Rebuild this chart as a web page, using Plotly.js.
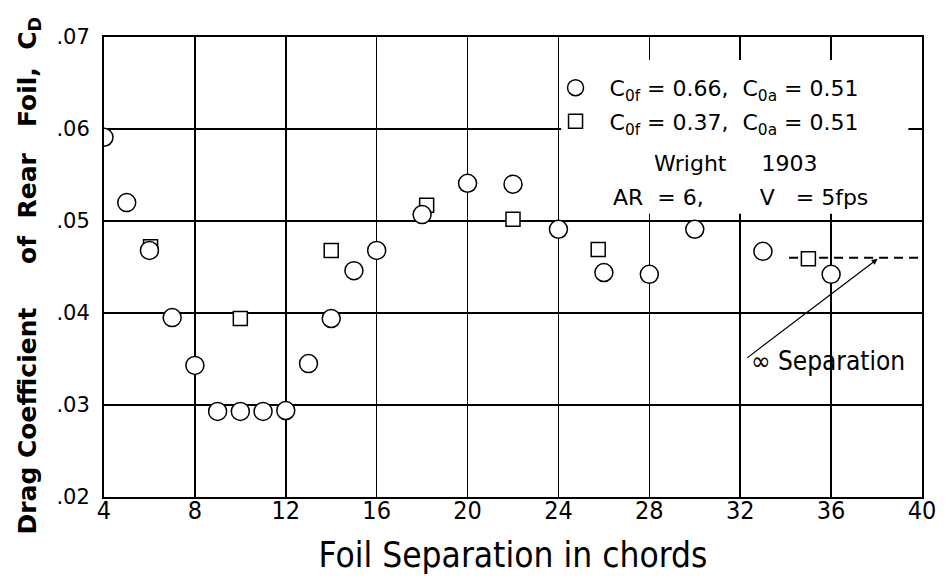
<!DOCTYPE html>
<html><head><meta charset="utf-8">
<script src="https://cdn.plot.ly/plotly-3.0.1.min.js"></script>
<style>html,body{margin:0;padding:0;background:#fff}</style>
</head><body>
<div id="chart" style="width:950px;height:579px"></div>
<script>
// Series 1: circles  (C0f = 0.66, C0a = 0.51)
const circleX = [4, 5, 6, 7, 8, 9, 10, 11, 12, 13, 14, 15, 16, 18, 20, 22, 24, 26, 28, 30, 33, 36];
const circleY = [0.0591, 0.0520, 0.0468, 0.0395, 0.0343, 0.0293, 0.0293, 0.0293, 0.0294, 0.0345, 0.0394, 0.0446, 0.0468, 0.0507, 0.0541, 0.0540, 0.0491, 0.0444, 0.0442, 0.0491, 0.0467, 0.0442];
// Series 2: squares (C0f = 0.37, C0a = 0.51)
const squareX = [6.05, 10, 14, 18.2, 22, 25.75, 35];
const squareY = [0.0472, 0.0394, 0.0468, 0.0517, 0.0502, 0.0469, 0.0459];
// Infinite separation level (dashed)
const infSepX = [34.15, 40];
const infSepY = [0.0460, 0.0460];
// Ticks
const xTickVals = [4, 8, 12, 16, 20, 24, 28, 32, 36, 40];
const xTickText = ['4', '8', '12', '16', '20', '24', '28', '32', '36', '40'];
const yTickVals = [0.02, 0.03, 0.04, 0.05, 0.06, 0.07];
const yTickText = ['.02', '.03', '.04', '.05', '.06', '.07'];

const narrow = 'Liberation Sans Narrow, DejaVu Sans Condensed, Roboto Condensed, Arial Narrow, sans-serif';
const sans = 'DejaVu Sans, Liberation Sans, sans-serif';
const nb = n => '\u00a0'.repeat(n);

const traces = [
  {x: infSepX, y: infSepY, type: 'scatter', mode: 'lines', showlegend: false, hoverinfo: 'skip',
   line: {color: '#000', width: 2, dash: '9px,6px'}},
  {x: squareX, y: squareY, type: 'scatter', mode: 'markers', legendgroup: 'b', legendrank: 2,
   name: nb(2) + 'C<sub>0f</sub> = 0.37,' + nb(2) + 'C<sub>0a</sub> = 0.51',
   marker: {symbol: 'square', size: 14, color: '#fff', line: {color: '#000', width: 1.5}}},
  {x: circleX, y: circleY, type: 'scatter', mode: 'markers', legendgroup: 'a', legendrank: 1,
   name: nb(2) + 'C<sub>0f</sub> = 0.66,' + nb(2) + 'C<sub>0a</sub> = 0.51',
   marker: {symbol: 'circle', size: 18, color: '#fff', line: {color: '#000', width: 1.5}}}
];

const yTitle = '<b>Drag' + nb(1) + 'Coefficient' + nb(5) + 'of' + nb(2) + 'Rear' + nb(3) + 'Foil,' + nb(2) + 'C<sub>D</sub>' + nb(2) + '</b>';

const layout = {
  width: 950, height: 579,
  margin: {l: 104, r: 28, t: 37, b: 82},
  paper_bgcolor: '#fff', plot_bgcolor: '#fff',
  showlegend: true,
  legend: {x: 0.552, y: 0.935, xanchor: 'left', yanchor: 'top', bgcolor: 'rgba(0,0,0,0)', borderwidth: 0,
           traceorder: 'grouped', tracegroupgap: 2,
           font: {family: sans, size: 22, color: '#000'}},
  xaxis: {range: [4, 40], tickvals: xTickVals, ticktext: xTickText, showgrid: true, gridcolor: '#000', gridwidth: 1.6,
          showline: true, linecolor: '#000', linewidth: 2, mirror: true, ticks: '', zeroline: false,
          ticklabelstandoff: -10,
          tickfont: {family: narrow, size: 25, color: '#000'},
          title: {text: 'Foil Separation in chords', font: {family: narrow, size: 35, color: '#000'}, standoff: 18}},
  yaxis: {range: [0.02, 0.07], tickvals: yTickVals, ticktext: yTickText, showgrid: true, gridcolor: '#000', gridwidth: 1.6,
          showline: true, linecolor: '#000', linewidth: 2, mirror: true, ticks: '', zeroline: false,
          ticklabelstandoff: 8,
          tickfont: {family: sans, size: 21, color: '#000'},
          title: {text: yTitle, font: {family: sans, size: 25, color: '#000'}, standoff: 13}},
  shapes: [
    {type: 'rect', xref: 'x', yref: 'y', x0: 24.12, x1: 39.4, y0: 0.0508, y1: 0.0675,
     fillcolor: '#fff', line: {width: 0}, layer: 'above'}
  ],
  annotations: [
    {xref: 'paper', yref: 'paper', x: 0.772, y: 0.725, xanchor: 'center', yanchor: 'middle', showarrow: false,
     text: 'Wright' + nb(5) + '1903', font: {family: sans, size: 22, color: '#000'}},
    {xref: 'paper', yref: 'paper', x: 0.620, y: 0.651, xanchor: 'left', yanchor: 'middle', showarrow: false,
     text: 'AR' + nb(2) + '=' + nb(1) + '6,' + nb(8) + 'V' + nb(3) + '=' + nb(1) + '5fps', font: {family: sans, size: 22, color: '#000'}},
    {xref: 'x', yref: 'y', axref: 'x', ayref: 'y', x: 38.05, y: 0.0459, ax: 32.24, ay: 0.0350, text: '',
     showarrow: true, arrowhead: 2, arrowsize: 1, arrowwidth: 1.2, arrowcolor: '#000'},
    {xref: 'x', yref: 'y', x: 32.4, y: 0.0348, xanchor: 'left', yanchor: 'middle', showarrow: false,
     text: '\u221e\u00a0Separation', font: {family: narrow, size: 26, color: '#000'}}
  ]
};

Plotly.newPlot('chart', traces, layout, {displayModeBar: false, staticPlot: true});
</script>
</body></html>
